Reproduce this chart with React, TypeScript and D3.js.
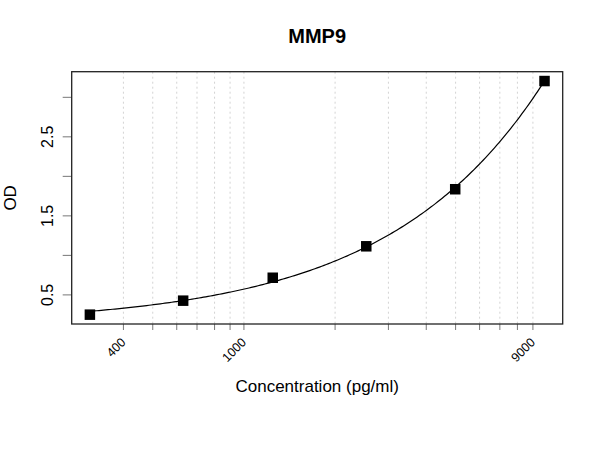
import { useEffect, useRef } from 'react';
import * as d3 from 'd3';

const concentrations = [310, 630, 1245, 2535, 4985, 9830];
const odValues = [0.25, 0.427, 0.717, 1.115, 1.837, 3.206];

// standard curve as it is drawn at several concentrations
const curveConc = [310, 401, 499, 631, 800, 997, 1245, 2000, 2535, 2994, 4003, 4985, 5967, 6985, 8022, 9000, 9830];
const curveOD = [0.293, 0.34, 0.374, 0.426, 0.513, 0.575, 0.651, 0.881, 1.114, 1.28, 1.582, 1.837, 2.139, 2.453, 2.747, 2.998, 3.177];

const xTicks = [400, 500, 600, 700, 800, 900, 1000, 2000, 3000, 4000, 5000, 6000, 7000, 8000, 9000];
const xTickLabels = [400, 1000, 9000];
const yTicks = [0.5, 1, 1.5, 2, 2.5, 3];
const yTickLabels = [0.5, 1.5, 2.5];

const TITLE = 'MMP9';
const X_LABEL = 'Concentration (pg/ml)';
const Y_LABEL = 'OD';

const WIDTH = 600;
const HEIGHT = 450;
const PLOT = { left: 71.7, top: 71.7, right: 562.7, bottom: 324 };
const FONT = '"Liberation Sans", Arial, sans-serif';

// smooth the read curve with y = a + b * exp(k * log10(x)), k scanned, a/b by least squares
function fitCurve(xs: number[], ys: number[]) {
  const u = xs.map((v) => Math.log10(v));
  const ym = d3.mean(ys) as number;
  let best = { a: 0, b: 0, k: 0, sse: Infinity };
  for (let k = 0.05; k < 12; k += 0.005) {
    const z = u.map((v) => Math.exp(k * v));
    const zm = d3.mean(z) as number;
    let sxy = 0;
    let sxx = 0;
    z.forEach((zi, i) => {
      sxy += (zi - zm) * (ys[i] - ym);
      sxx += (zi - zm) * (zi - zm);
    });
    const b = sxy / sxx;
    const a = ym - b * zm;
    const sse = d3.sum(z, (zi, i) => (a + b * zi - ys[i]) ** 2);
    if (sse < best.sse) best = { a, b, k, sse };
  }
  return (x: number) => best.a + best.b * Math.exp(best.k * Math.log10(x));
}

export default function App() {
  const ref = useRef<SVGSVGElement | null>(null);

  useEffect(() => {
    if (!ref.current) return;
    const svg = d3.select(ref.current);
    svg.selectAll('*').remove();

    // R-style 4% padding on both axes
    const [lx0, lx1] = d3.extent(concentrations.map((c) => Math.log10(c))) as [number, number];
    const padX = (lx1 - lx0) * 0.04;
    const x = d3
      .scaleLog()
      .domain([10 ** (lx0 - padX), 10 ** (lx1 + padX)])
      .range([PLOT.left, PLOT.right]);

    const [y0, y1] = d3.extent(odValues) as [number, number];
    const padY = (y1 - y0) * 0.04;
    const y = d3.scaleLinear().domain([y0 - padY, y1 + padY]).range([PLOT.bottom, PLOT.top]);

    svg.append('rect').attr('width', WIDTH).attr('height', HEIGHT).attr('fill', '#fff');

    // vertical grid
    svg
      .append('g')
      .selectAll('line')
      .data(xTicks)
      .join('line')
      .attr('x1', (d) => x(d))
      .attr('x2', (d) => x(d))
      .attr('y1', PLOT.top)
      .attr('y2', PLOT.bottom)
      .attr('stroke', '#d3d3d3')
      .attr('stroke-width', 1)
      .attr('stroke-dasharray', '2 3');

    // x ticks
    svg
      .append('g')
      .selectAll('line')
      .data(xTicks)
      .join('line')
      .attr('x1', (d) => x(d))
      .attr('x2', (d) => x(d))
      .attr('y1', PLOT.bottom)
      .attr('y2', PLOT.bottom + 6)
      .attr('stroke', '#777');

    svg
      .append('g')
      .selectAll('text')
      .data(xTickLabels)
      .join('text')
      .attr('transform', (d) => `translate(${x(d) + 3},${PLOT.bottom + 19}) rotate(-45)`)
      .attr('text-anchor', 'end')
      .attr('font-family', FONT)
      .attr('font-size', 12.5)
      .attr('fill', '#000')
      .text((d) => String(d));

    // y ticks
    svg
      .append('g')
      .selectAll('line')
      .data(yTicks)
      .join('line')
      .attr('x1', PLOT.left - 9)
      .attr('x2', PLOT.left)
      .attr('y1', (d) => y(d))
      .attr('y2', (d) => y(d))
      .attr('stroke', '#777');

    svg
      .append('g')
      .selectAll('text')
      .data(yTickLabels)
      .join('text')
      .attr('transform', (d) => `translate(53,${y(d)}) rotate(-90)`)
      .attr('text-anchor', 'middle')
      .attr('font-family', FONT)
      .attr('font-size', 16)
      .attr('fill', '#000')
      .text((d) => d.toFixed(1));

    // fitted curve, drawn across the range of the standards
    const fit = fitCurve(curveConc, curveOD);
    const [cMin, cMax] = d3.extent(concentrations) as [number, number];
    const lMin = Math.log10(cMin);
    const lMax = Math.log10(cMax);
    const samples = d3.range(0, 201).map((i) => 10 ** (lMin + (i / 200) * (lMax - lMin)));
    const line = d3
      .line<number>()
      .x((d) => x(d))
      .y((d) => y(fit(d)));
    svg
      .append('path')
      .datum(samples)
      .attr('fill', 'none')
      .attr('stroke', '#000')
      .attr('stroke-width', 1.2)
      .attr('d', line);

    // points
    const size = 10.5;
    svg
      .append('g')
      .selectAll('rect')
      .data(concentrations)
      .join('rect')
      .attr('x', (d) => x(d) - size / 2)
      .attr('y', (_, i) => y(odValues[i]) - size / 2)
      .attr('width', size)
      .attr('height', size)
      .attr('fill', '#000');

    // plot box
    svg
      .append('rect')
      .attr('x', PLOT.left)
      .attr('y', PLOT.top)
      .attr('width', PLOT.right - PLOT.left)
      .attr('height', PLOT.bottom - PLOT.top)
      .attr('fill', 'none')
      .attr('stroke', '#222')
      .attr('stroke-width', 1.3);

    // title and axis labels
    svg
      .append('text')
      .attr('x', (PLOT.left + PLOT.right) / 2)
      .attr('y', 43)
      .attr('text-anchor', 'middle')
      .attr('font-family', FONT)
      .attr('font-weight', 'bold')
      .attr('font-size', 20)
      .attr('fill', '#000')
      .text(TITLE);

    svg
      .append('text')
      .attr('x', (PLOT.left + PLOT.right) / 2)
      .attr('y', 392)
      .attr('text-anchor', 'middle')
      .attr('font-family', FONT)
      .attr('font-size', 17)
      .attr('fill', '#000')
      .text(X_LABEL);

    svg
      .append('text')
      .attr('transform', `translate(16,${(PLOT.top + PLOT.bottom) / 2}) rotate(-90)`)
      .attr('text-anchor', 'middle')
      .attr('font-family', FONT)
      .attr('font-size', 17)
      .attr('fill', '#000')
      .text(Y_LABEL);
  }, []);

  return (
    <svg
      ref={ref}
      width={WIDTH}
      height={HEIGHT}
      style={{ position: 'absolute', left: 0, top: 0 }}
    />
  );
}
